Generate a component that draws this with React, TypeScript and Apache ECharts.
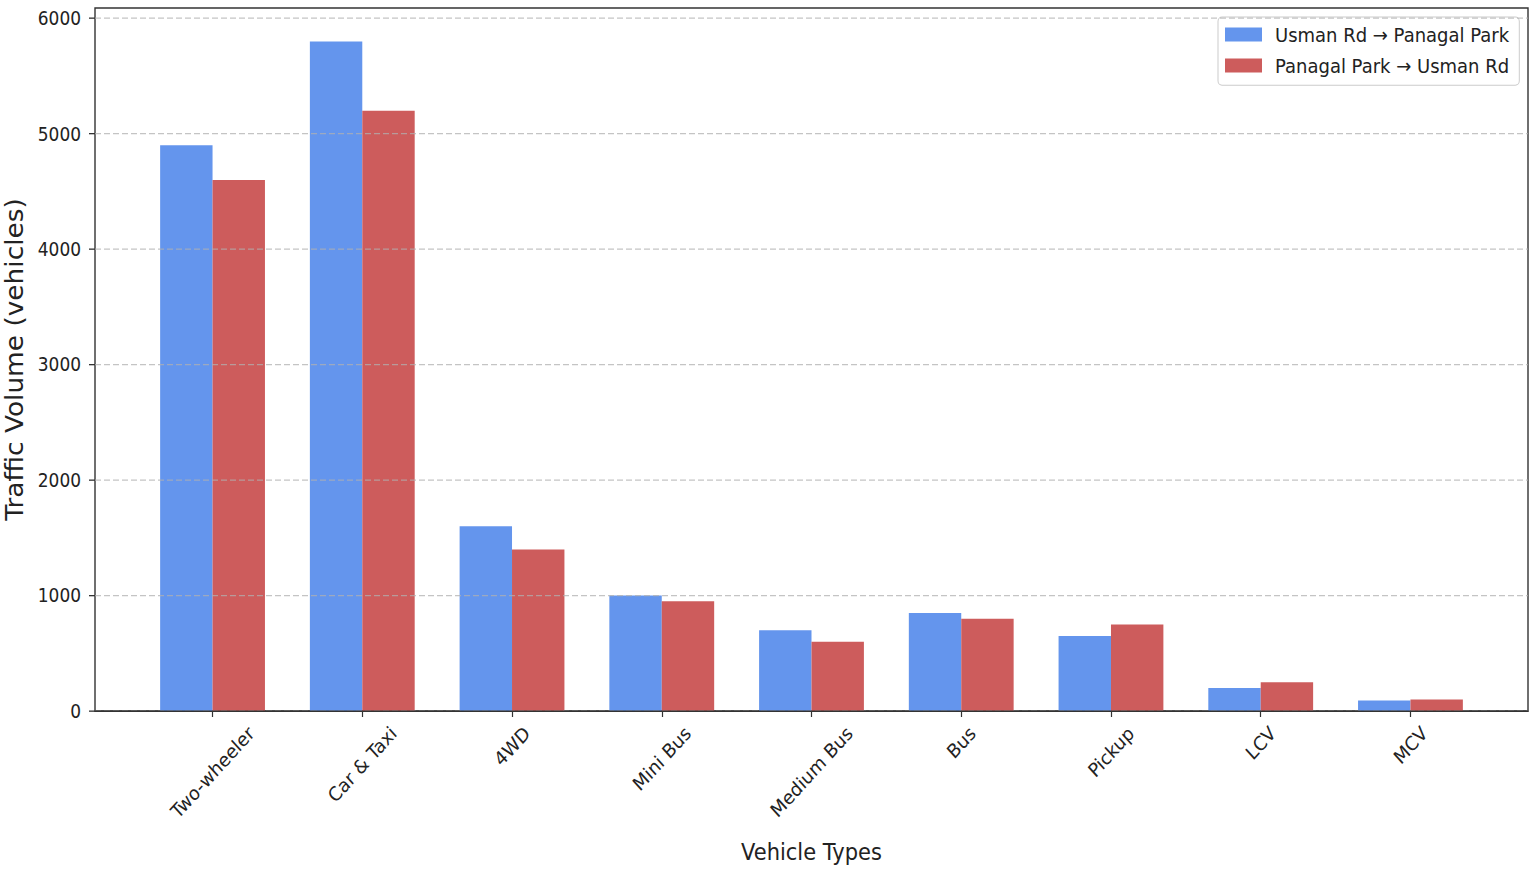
import React, { useEffect, useRef } from 'react';
import * as echarts from 'echarts';

// ---- data ----
const categories = ['Two-wheeler', 'Car & Taxi', '4WD', 'Mini Bus', 'Medium Bus', 'Bus', 'Pickup', 'LCV', 'MCV'];
const usmanToPanagal = [4900, 5800, 1600, 1000, 700, 850, 650, 200, 90];
const panagalToUsman = [4600, 5200, 1400, 950, 600, 800, 750, 250, 100];
const seriesNames = ['Usman Rd → Panagal Park', 'Panagal Park → Usman Rd'];
const yTicks = [0, 1000, 2000, 3000, 4000, 5000, 6000];
const yMax = 6090;
const xTitle = 'Vehicle Types';
const yTitle = 'Traffic Volume (vehicles)';

// ---- layout ----
const W = 1535;
const H = 873;
const K = 1.1; // vertical stretch of the reference picture
const CH = H / K;
const FONT = '"DejaVu Sans", "Liberation Sans", sans-serif';
const TXT = '#222222';
const SPINE = '#333333';
const plotLeft = 95;
const plotRight = 1528;
const plotTop = 8 / K;
const plotBottom = 711 / K;
const plotW = plotRight - plotLeft;
const plotH = plotBottom - plotTop;
// matplotlib-like x range: -0.785 .. 8.785
const xMinData = -0.785;
const xSpan = 9.57;
const unit = plotW / xSpan;
const catLeft = plotLeft + (-0.5 - xMinData) * unit;
const catW = categories.length * unit;
const barW = 0.35 * unit;
const tickFont = 17;
const xTickFont = 17.5;
const labelPad = 722 / K - plotBottom;

function measure(t: string, size: number): number {
  const c = document.createElement('canvas').getContext('2d');
  if (!c) return t.length * size * 0.6;
  c.font = `${size}px "DejaVu Sans"`;
  return c.measureText(t).width;
}

export default function App() {
  const ref = useRef<HTMLDivElement>(null);
  useEffect(() => {
    if (!ref.current) return;
    const chart = echarts.init(ref.current, undefined, { renderer: 'svg' });
    const hText = xTickFont * 1.164;
    const labelLen = categories.map((c) => measure(c, xTickFont));
    chart.setOption({
      animation: false,
      textStyle: { fontFamily: FONT },
      legend: {
        data: seriesNames,
        orient: 'vertical',
        left: 1218,
        top: 17 / K,
        padding: [7, 10, 9, 7],
        itemWidth: 37,
        itemHeight: 14 / K,
        itemGap: 10,
        icon: 'rect',
        backgroundColor: 'rgba(255,255,255,0.85)',
        borderColor: '#cccccc',
        borderWidth: 1,
        borderRadius: 4,
        textStyle: { fontSize: 18, color: TXT, fontFamily: FONT, lineHeight: 18, padding: [0, 0, 0, 8] },
      },
      grid: [
        {
          left: plotLeft,
          top: plotTop,
          width: plotW,
          height: plotH,
          show: true,
          borderColor: SPINE,
          borderWidth: 1.4,
          containLabel: false,
          outerBoundsMode: 'none',
        },
        {
          left: catLeft,
          top: plotTop,
          width: catW,
          height: plotH,
          containLabel: false,
          outerBoundsMode: 'none',
        },
      ],
      xAxis: [
        {
          gridIndex: 0,
          type: 'value',
          min: 0,
          max: 1,
          z: 5,
          axisLine: { show: true, onZero: false, lineStyle: { color: SPINE, width: 1.4 } },
          axisTick: { show: false },
          axisLabel: { show: false },
          splitLine: { show: false },
        },
        {
          gridIndex: 1,
          type: 'category',
          data: categories,
          z: 5,
          name: xTitle,
          nameLocation: 'middle',
          nameGap: 117.5,
          nameMoveOverlap: false,
          nameTextStyle: { fontSize: 21, color: TXT, fontFamily: FONT },
          axisLine: { show: false },
          axisTick: {
            show: true,
            alignWithLabel: true,
            interval: 0,
            length: 6 / K,
            lineStyle: { color: SPINE, width: 1.2 },
          },
          axisLabel: { show: false, interval: 0 },
          splitLine: { show: false },
        },
      ],
      yAxis: [
        {
          gridIndex: 0,
          type: 'value',
          min: 0,
          max: yMax,
          interval: 1000,
          z: 5,
          name: yTitle,
          nameLocation: 'middle',
          nameGap: 68,
          nameMoveOverlap: false,
          nameTextStyle: { fontSize: 24, color: TXT, fontFamily: FONT },
          axisLine: { show: false },
          axisTick: {
            show: true,
            length: 6,
            customValues: yTicks,
            lineStyle: { color: SPINE, width: 1.2 },
          },
          axisLabel: {
            customValues: yTicks,
            formatter: (v: number) => String(v),
            fontSize: tickFont,
            color: TXT,
            margin: 14,
            fontFamily: FONT,
          },
          splitLine: {
            show: true,
            lineStyle: { color: 'rgba(176,176,176,0.75)', type: [6, 3], width: 1.1 },
          },
        },
        {
          gridIndex: 1,
          type: 'value',
          min: 0,
          max: yMax,
          show: false,
          splitLine: { show: false },
        },
      ],
      series: [
        {
          name: seriesNames[0],
          type: 'bar',
          xAxisIndex: 1,
          yAxisIndex: 1,
          data: usmanToPanagal,
          barWidth: barW,
          barGap: '0%',
          itemStyle: { color: '#6495ED' },
          z: 2,
        },
        {
          name: seriesNames[1],
          type: 'bar',
          xAxisIndex: 1,
          yAxisIndex: 1,
          data: panagalToUsman,
          barWidth: barW,
          barGap: '0%',
          itemStyle: { color: '#CD5C5C' },
          z: 2,
        },
        {
          // category tick labels, rotated 45° and centred under each tick (matplotlib style)
          type: 'custom',
          xAxisIndex: 1,
          yAxisIndex: 1,
          silent: true,
          clip: false,
          z: 6,
          data: categories.map((_, i) => [i, 0]),
          encode: { x: 0, y: 1 },
          renderItem: (params: any, api: any) => {
            const i = api.value(0);
            const pt = api.coord([i, 0]);
            const off = (labelLen[i] + hText) / (2 * Math.SQRT2);
            return {
              type: 'text',
              x: pt[0],
              y: pt[1] + labelPad + off,
              rotation: Math.PI / 4,
              style: {
                text: categories[i],
                align: 'center',
                verticalAlign: 'middle',
                fontSize: xTickFont,
                fontFamily: FONT,
                fill: TXT,
              },
            };
          },
        },
      ],
    });
    return () => chart.dispose();
  }, []);

  return (
    <div style={{ position: 'absolute', left: 0, top: 0, width: W, height: H, overflow: 'hidden', background: '#fff' }}>
      <div
        ref={ref}
        style={{ width: W, height: CH, transform: `scaleY(${K})`, transformOrigin: '0 0' }}
      />
    </div>
  );
}
